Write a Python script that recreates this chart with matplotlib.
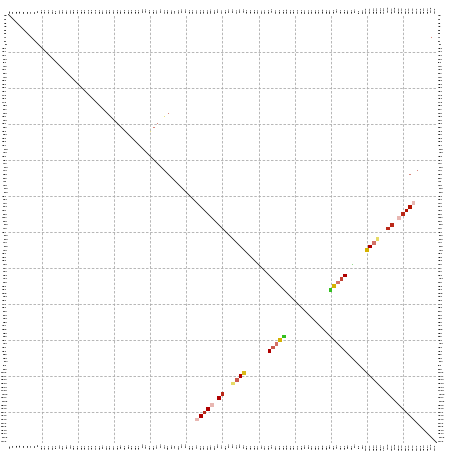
import numpy as np
import matplotlib
matplotlib.use("Agg")
import matplotlib.pyplot as plt
from matplotlib.colors import LinearSegmentedColormap

# residue sequence used for the tick labels (119 residues)
seq = list("MSKGEELFTGVVPILVELDGDVNGHKFSVSGEGEGDATYGKLTLKFICTTGKLPVPWPTLVTTLTYGVQCFSRYPDHMKQHDFFKSAMPEGYVQERTIFFKDDGNYKTRAEVKFEGDTL")
tick_labels = [f"{aa}{i + 1}" for i, aa in enumerate(seq)]

# contacts: column, row, score (0 = red, 1 = green), weight (opacity)
cols = [52, 53, 54, 55, 56, 58, 59, 62, 63, 64, 65,
        72, 73, 74, 75, 76,
        89, 90, 91, 92, 93,
        99, 100, 101, 102, 105, 106, 108, 109, 110, 111, 112]
rows = [112, 111, 110, 109, 108, 106, 105, 102, 101, 100, 99,
        93, 92, 91, 90, 89,
        76, 75, 74, 73, 72,
        65, 64, 63, 62, 59, 58, 56, 55, 54, 53, 52]
score = [0.05, 0.0, 0.05, 0.0, 0.05, 0.0, 0.05, 0.5, 0.05, 0.0, 0.45,
         0.0, 0.05, 0.05, 0.45, 0.95,
         0.95, 0.45, 0.05, 0.05, 0.0,
         0.45, 0.0, 0.05, 0.5, 0.05, 0.05, 0.05, 0.05, 0.05, 0.05, 0.05]
weight = [0.3, 1.0, 0.9, 1.0, 0.3, 1.0, 0.9, 0.6, 0.7, 1.0, 0.9,
          1.0, 0.7, 0.6, 1.0, 1.0,
          1.0, 1.0, 0.6, 0.8, 1.0,
          1.0, 1.0, 0.6, 0.6, 0.9, 0.9, 0.3, 0.9, 1.0, 1.0, 0.3]

# weak contacts (drawn small)
weak_cols = [43, 44, 41, 40, 39, 113, 111, 117, 95]
weak_rows = [28, 27, 30, 31, 32, 43, 44, 6, 69]
weak_score = [0.5, 0.05, 0.05, 0.05, 0.5, 0.05, 0.05, 0.05, 0.95]

cmap = LinearSegmentedColormap.from_list("ryg", ["#b00000", "#d8c400", "#22c022"])

n = len(seq)
fig = plt.figure(figsize=(4.52, 4.51), dpi=100)
ax = fig.add_axes([8 / 452, 1 - 443 / 451, 429 / 452, 429 / 451])

rgba = cmap(np.array(score))
rgba[:, 3] = weight
ax.scatter(cols, rows, c=rgba, marker="s", s=7, linewidths=0, zorder=3)
wrgba = cmap(np.array(weak_score))
wrgba[:, 3] = 0.5
ax.scatter(weak_cols, weak_rows, c=wrgba, marker="s", s=0.6, linewidths=0, zorder=3)

ax.plot([-0.5, n - 0.5], [-0.5, n - 0.5], color="black", lw=0.5, zorder=2)

for v in range(9, n, 10):
    ax.axvline(v, color="#aaaaaa", ls=(0, (3, 2)), lw=0.6, zorder=1)
for v in range(10, n, 10):
    ax.axhline(v, color="#aaaaaa", ls=(0, (3, 2)), lw=0.6, zorder=1)

ax.set_xlim(-0.5, n - 0.5)
ax.set_ylim(n - 0.5, -0.5)
ax.set_xticks(range(n))
ax.set_yticks(range(n))
ax.set_xticklabels(tick_labels, fontsize=1.6, rotation=90, color="#222222",
                   fontweight="bold")
ax.set_yticklabels(tick_labels, fontsize=1.6, color="#222222", va="center",
                   fontweight="bold")
ax.tick_params(length=0, pad=0.5, top=True, right=True,
               labeltop=True, labelright=True)
for s in ax.spines.values():
    s.set_visible(False)

fig.savefig("out.png", dpi=100)
